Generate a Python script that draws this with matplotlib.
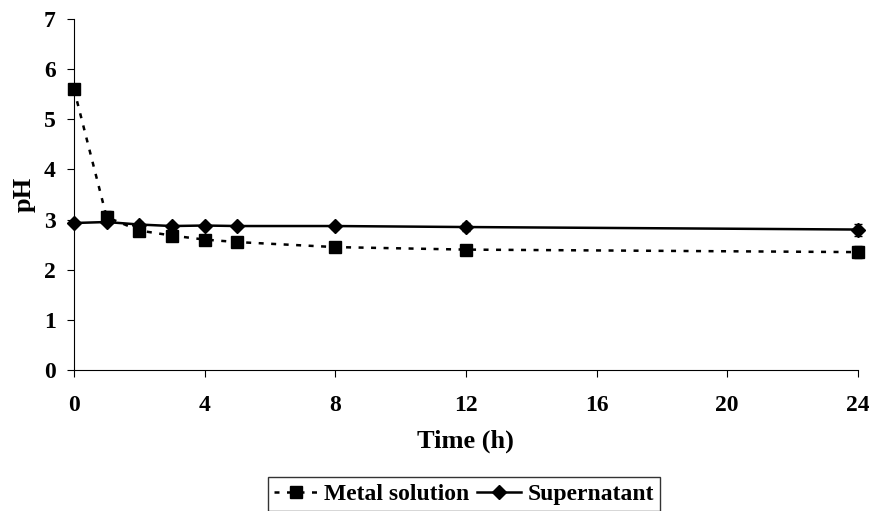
import numpy as np
import matplotlib
matplotlib.use("Agg")
import matplotlib.pyplot as plt
from matplotlib.lines import Line2D

plt.rcParams['font.family'] = ['Liberation Serif', 'DejaVu Serif']
plt.rcParams['font.weight'] = 'bold'

time_h = [0, 1, 2, 3, 4, 5, 8, 12, 24]
metal_ph = [5.6, 3.05, 2.78, 2.68, 2.6, 2.55, 2.45, 2.4, 2.35]
metal_err = [0.05, 0.12, 0.08, 0.06, 0.05, 0.04, 0.04, 0.05, 0.12]
super_ph = [2.93, 2.95, 2.9, 2.87, 2.88, 2.87, 2.87, 2.85, 2.8]
super_err = [0.03, 0.04, 0.05, 0.04, 0.03, 0.03, 0.05, 0.08, 0.12]
xticks = [0, 4, 8, 12, 16, 20, 24]

fig = plt.figure(figsize=(8.7, 5.11), dpi=100)
ax = fig.add_axes([0.085, 0.276, 0.901, 0.687])

dash = (0, (2, 3))
ax.errorbar(time_h, metal_ph, yerr=metal_err, color='black', linestyle=dash,
            linewidth=1.8, marker='s', markersize=8, capsize=3, elinewidth=1,
            clip_on=False, zorder=3)
ax.errorbar(time_h, super_ph, yerr=super_err, color='black', linestyle='-',
            linewidth=1.8, marker='D', markersize=7, capsize=3, elinewidth=1,
            clip_on=False, zorder=4)

ax.set_xlim(0, 24)
ax.set_ylim(0, 7)
ax.set_xticks(xticks)
ax.set_yticks(range(0, 8))
ax.tick_params(labelsize=17, direction='out', length=5)
ax.tick_params(axis='x', pad=13)
ax.tick_params(axis='y', pad=8)
for lab in ax.get_xticklabels() + ax.get_yticklabels():
    lab.set_fontweight('bold')
ax.spines['top'].set_visible(False)
ax.spines['right'].set_visible(False)
ax.set_xlabel('Time (h)', fontsize=19, fontweight='bold', labelpad=10)
ax.set_ylabel('pH', fontsize=19, fontweight='bold', labelpad=6)

handles = [
    Line2D([], [], color='black', linestyle=dash, linewidth=1.8, marker='s', markersize=8),
    Line2D([], [], color='black', linestyle='-', linewidth=1.8, marker='D', markersize=7),
]
fig.legend(handles, ['Metal solution', 'Supernatant'], loc='center',
           bbox_to_anchor=(0.533, 0.033), ncol=2, frameon=True,
           fancybox=False, edgecolor='black', handlelength=1.9,
           columnspacing=0.3, handletextpad=0.25, borderpad=0.25,
           prop={'weight': 'bold', 'size': 17})

fig.savefig('out.png', dpi=100)
